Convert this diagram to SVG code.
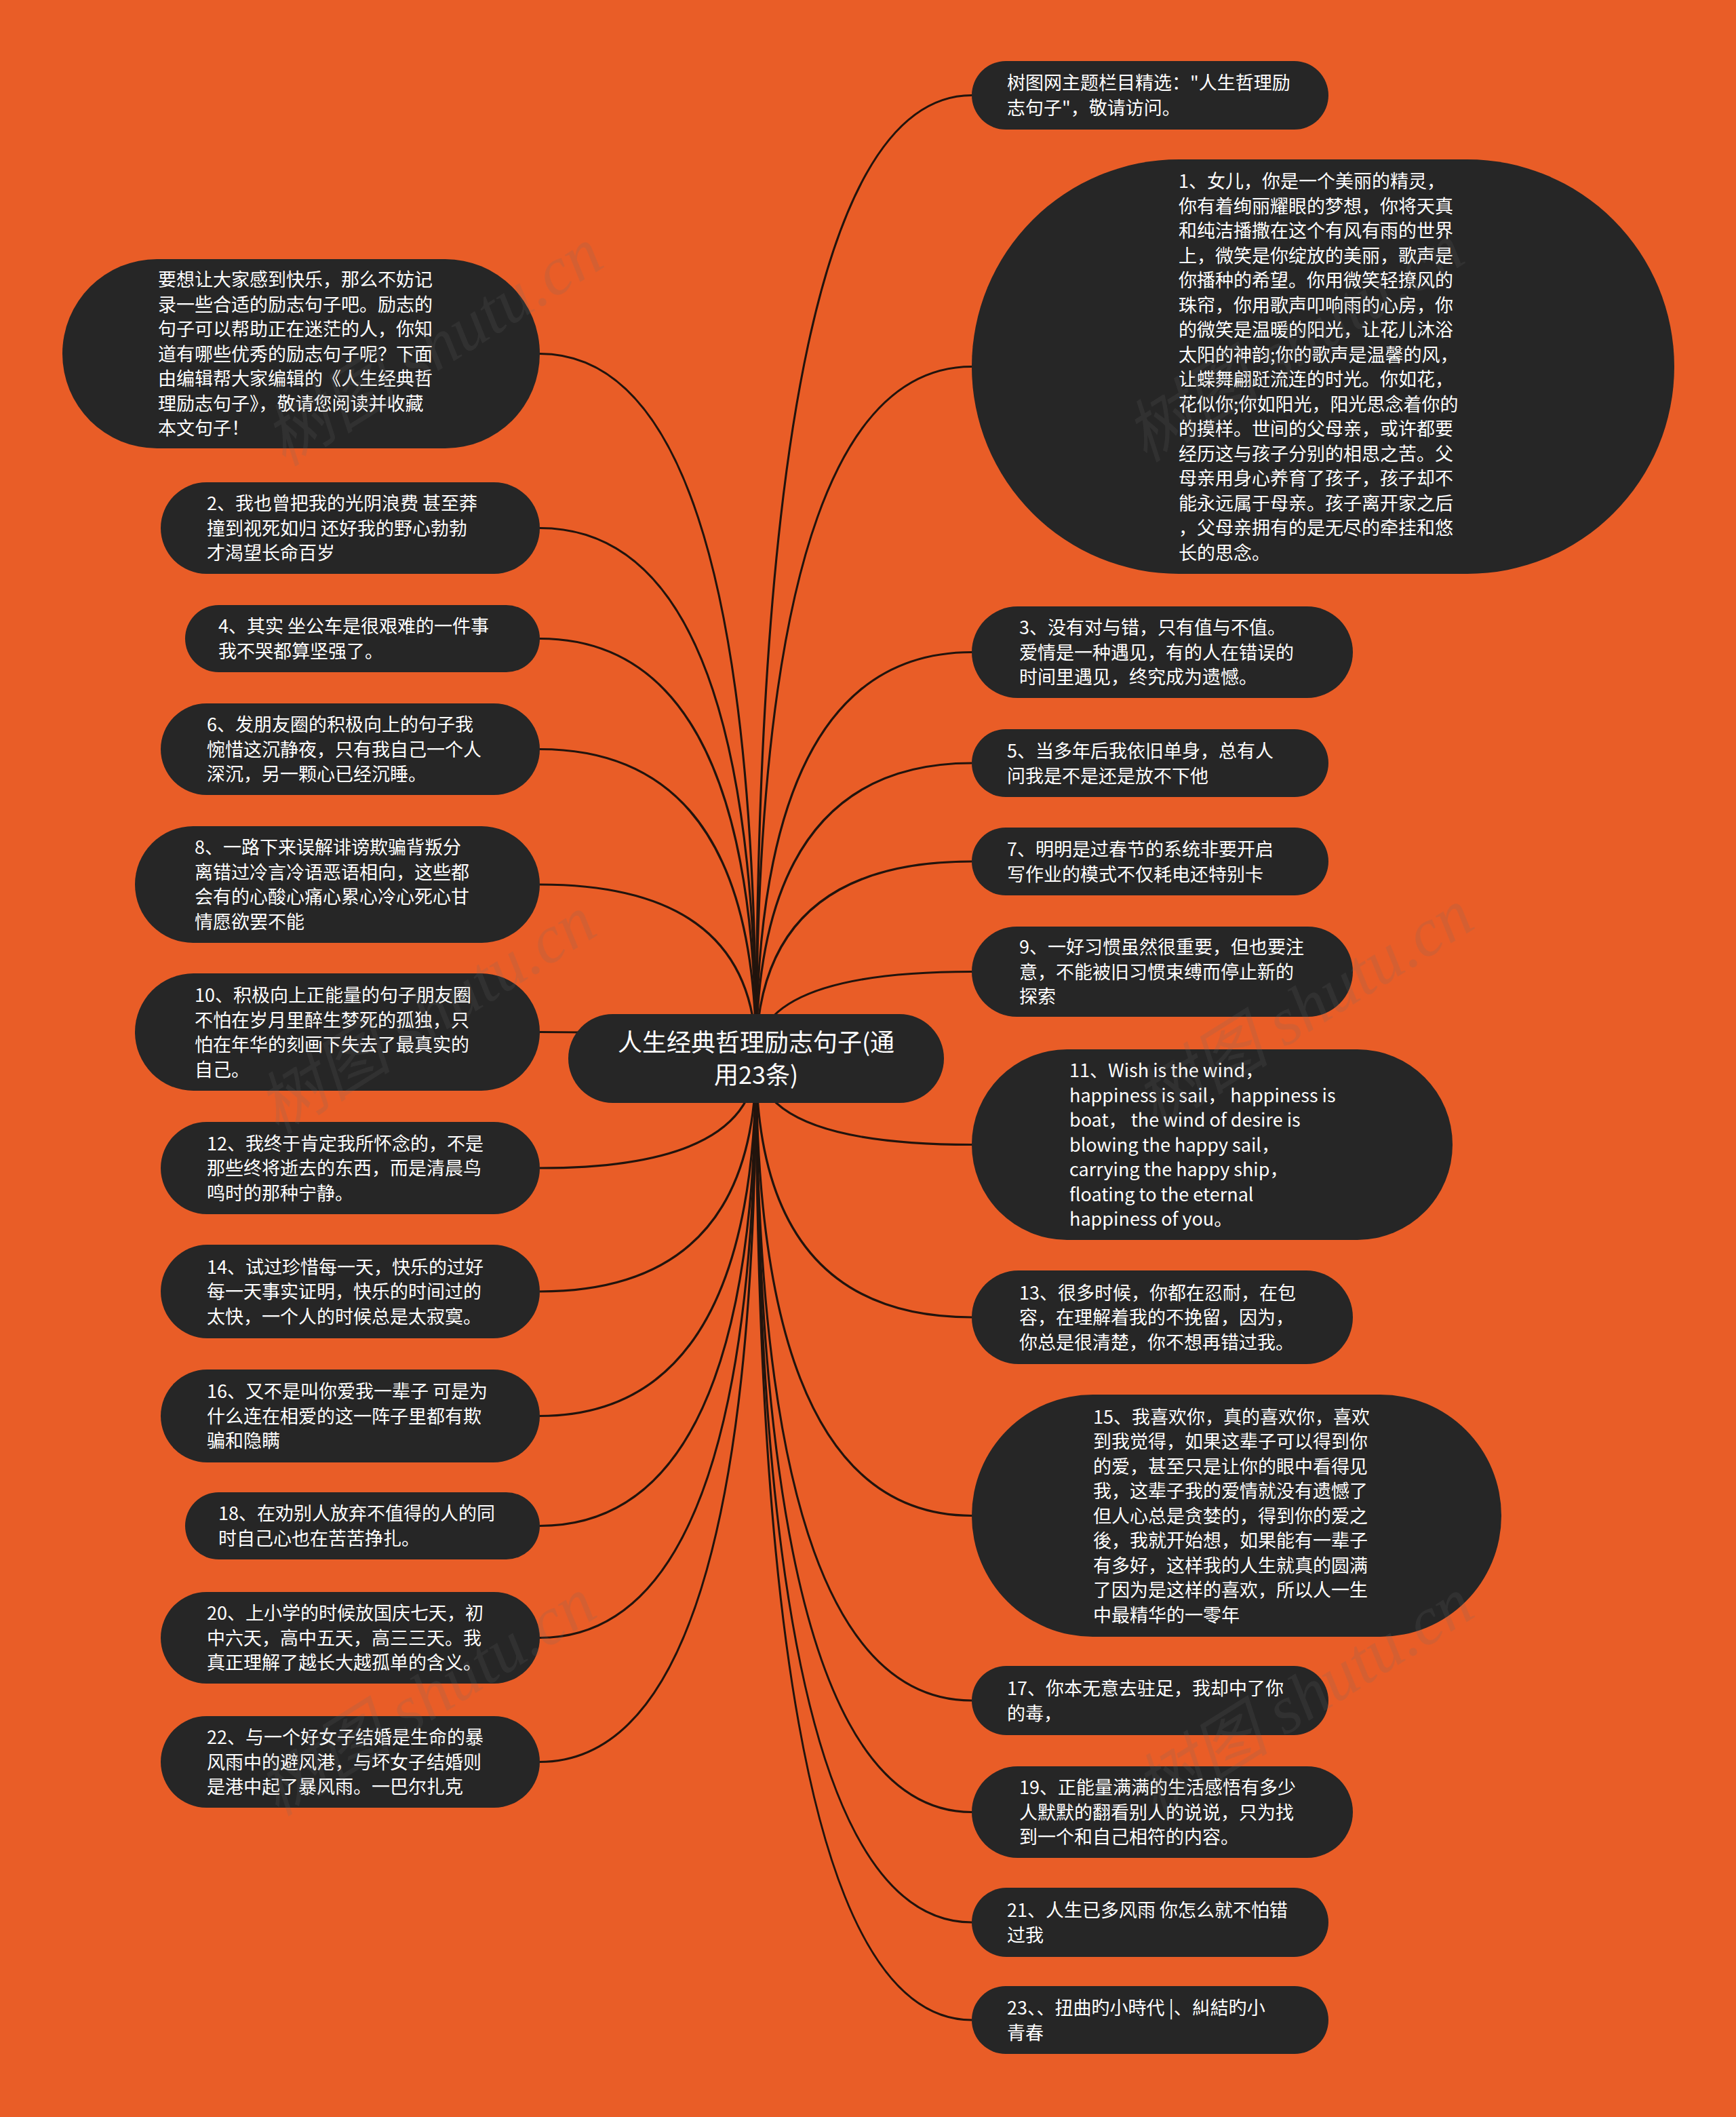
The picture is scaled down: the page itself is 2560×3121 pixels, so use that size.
<svg xmlns="http://www.w3.org/2000/svg" width="2560" height="3121" viewBox="0 0 2560 3121">
<style>
.bg{fill:#E95D27}
.edge{fill:none;stroke:#22140d;stroke-width:3.2}
.box{fill:#262626}
.t{fill:#ffffff;font-family:"Noto Sans CJK SC","Noto Sans",sans-serif;font-size:27px}
.ct{fill:#ffffff;font-family:"Noto Sans CJK SC","Noto Sans",sans-serif;font-size:36px;text-anchor:middle}
.wm{fill:#6e6e6e;opacity:0.16;font-family:"Liberation Serif","Noto Sans CJK SC",serif;font-style:italic;font-size:100px;text-anchor:middle}
</style>
<rect class="bg" x="0" y="0" width="2560" height="3121"/>
<g id="connectors">
<path class="edge" d="M1115 1560 Q1115 140.5 1433 140.5"/>
<path class="edge" d="M1115 1560 Q1115 540.5 1433 540.5"/>
<path class="edge" d="M1115 1560 Q1115 961.5 1433 961.5"/>
<path class="edge" d="M1115 1560 Q1115 1125 1433 1125"/>
<path class="edge" d="M1115 1560 Q1115 1270 1433 1270"/>
<path class="edge" d="M1115 1560 Q1115 1432.5 1433 1432.5"/>
<path class="edge" d="M1115 1560 Q1115 1687.5 1433 1687.5"/>
<path class="edge" d="M1115 1560 Q1115 1942 1433 1942"/>
<path class="edge" d="M1115 1560 Q1115 2234.5 1433 2234.5"/>
<path class="edge" d="M1115 1560 Q1115 2507 1433 2507"/>
<path class="edge" d="M1115 1560 Q1115 2671.5 1433 2671.5"/>
<path class="edge" d="M1115 1560 Q1115 2834 1433 2834"/>
<path class="edge" d="M1115 1560 Q1115 2978 1433 2978"/>
<path class="edge" d="M1115 1560 Q1115 521.5 796 521.5"/>
<path class="edge" d="M1115 1560 Q1115 778.5 796 778.5"/>
<path class="edge" d="M1115 1560 Q1115 941.5 796 941.5"/>
<path class="edge" d="M1115 1560 Q1115 1104.5 796 1104.5"/>
<path class="edge" d="M1115 1560 Q1115 1304 796 1304"/>
<path class="edge" d="M1115 1560 Q1115 1521.5 796 1521.5"/>
<path class="edge" d="M1115 1560 Q1115 1722 796 1722"/>
<path class="edge" d="M1115 1560 Q1115 1904 796 1904"/>
<path class="edge" d="M1115 1560 Q1115 2087.5 796 2087.5"/>
<path class="edge" d="M1115 1560 Q1115 2249.5 796 2249.5"/>
<path class="edge" d="M1115 1560 Q1115 2414.5 796 2414.5"/>
<path class="edge" d="M1115 1560 Q1115 2597.5 796 2597.5"/>
</g>
<g id="center">
<rect class="box" x="838" y="1495" width="554" height="131" rx="65.5"/>
<text class="ct" x="1115" y="1549.5">人生经典哲理励志句子(通<tspan x="1115" dy="48">用23条)</tspan></text>
</g>
<g id="n-top">
<rect class="box" x="1433" y="90" width="526" height="101" rx="50.5"/>
<text class="t" y="132"><tspan x="1485">树图网主题栏目精选："人生哲理励</tspan><tspan x="1485" dy="36.5">志句子"，敬请访问。</tspan></text>
</g>
<g id="n1">
<rect class="box" x="1433" y="235" width="1036" height="611" rx="305.5"/>
<text class="t" y="277"><tspan x="1738">1、女儿，你是一个美丽的精灵，</tspan><tspan x="1738" dy="36.5">你有着绚丽耀眼的梦想，你将天真</tspan><tspan x="1738" dy="36.5">和纯洁播撒在这个有风有雨的世界</tspan><tspan x="1738" dy="36.5">上，微笑是你绽放的美丽，歌声是</tspan><tspan x="1738" dy="36.5">你播种的希望。你用微笑轻撩风的</tspan><tspan x="1738" dy="36.5">珠帘，你用歌声叩响雨的心房，你</tspan><tspan x="1738" dy="36.5">的微笑是温暖的阳光，让花儿沐浴</tspan><tspan x="1738" dy="36.5">太阳的神韵;你的歌声是温馨的风，</tspan><tspan x="1738" dy="36.5">让蝶舞翩跹流连的时光。你如花，</tspan><tspan x="1738" dy="36.5">花似你;你如阳光，阳光思念着你的</tspan><tspan x="1738" dy="36.5">的摸样。世间的父母亲，或许都要</tspan><tspan x="1738" dy="36.5">经历这与孩子分别的相思之苦。父</tspan><tspan x="1738" dy="36.5">母亲用身心养育了孩子，孩子却不</tspan><tspan x="1738" dy="36.5">能永远属于母亲。孩子离开家之后</tspan><tspan x="1738" dy="36.5">，父母亲拥有的是无尽的牵挂和悠</tspan><tspan x="1738" dy="36.5">长的思念。</tspan></text>
</g>
<g id="n3">
<rect class="box" x="1433" y="894" width="562" height="135" rx="67.5"/>
<text class="t" y="935"><tspan x="1503">3、没有对与错，只有值与不值。</tspan><tspan x="1503" dy="36.5">爱情是一种遇见，有的人在错误的</tspan><tspan x="1503" dy="36.5">时间里遇见，终究成为遗憾。</tspan></text>
</g>
<g id="n5">
<rect class="box" x="1433" y="1075" width="526" height="100" rx="50"/>
<text class="t" y="1117"><tspan x="1485">5、当多年后我依旧单身，总有人</tspan><tspan x="1485" dy="36.5">问我是不是还是放不下他</tspan></text>
</g>
<g id="n7">
<rect class="box" x="1433" y="1220" width="526" height="100" rx="50"/>
<text class="t" y="1262"><tspan x="1485">7、明明是过春节的系统非要开启</tspan><tspan x="1485" dy="36.5">写作业的模式不仅耗电还特别卡</tspan></text>
</g>
<g id="n9">
<rect class="box" x="1433" y="1366" width="562" height="133" rx="66.5"/>
<text class="t" y="1406"><tspan x="1503">9、一好习惯虽然很重要，但也要注</tspan><tspan x="1503" dy="36.5">意，不能被旧习惯束缚而停止新的</tspan><tspan x="1503" dy="36.5">探索</tspan></text>
</g>
<g id="n11">
<rect class="box" x="1433" y="1547" width="709" height="281" rx="140.5"/>
<text class="t" y="1588"><tspan x="1577">11、Wish is the wind，</tspan><tspan x="1577" dy="36.5">happiness is sail，  happiness is</tspan><tspan x="1577" dy="36.5">boat，  the wind of desire is</tspan><tspan x="1577" dy="36.5">blowing the happy sail，</tspan><tspan x="1577" dy="36.5">carrying the happy ship，</tspan><tspan x="1577" dy="36.5">floating to the eternal</tspan><tspan x="1577" dy="36.5">happiness of you。</tspan></text>
</g>
<g id="n13">
<rect class="box" x="1433" y="1873" width="562" height="138" rx="69"/>
<text class="t" y="1915.5"><tspan x="1503">13、很多时候，你都在忍耐，在包</tspan><tspan x="1503" dy="36.5">容，在理解着我的不挽留，因为，</tspan><tspan x="1503" dy="36.5">你总是很清楚，你不想再错过我。</tspan></text>
</g>
<g id="n15">
<rect class="box" x="1433" y="2056" width="781" height="357" rx="178.5"/>
<text class="t" y="2098.5"><tspan x="1612">15、我喜欢你，真的喜欢你，喜欢</tspan><tspan x="1612" dy="36.5">到我觉得，如果这辈子可以得到你</tspan><tspan x="1612" dy="36.5">的爱，甚至只是让你的眼中看得见</tspan><tspan x="1612" dy="36.5">我，这辈子我的爱情就没有遗憾了</tspan><tspan x="1612" dy="36.5">但人心总是贪婪的，得到你的爱之</tspan><tspan x="1612" dy="36.5">後，我就开始想，如果能有一辈子</tspan><tspan x="1612" dy="36.5">有多好，这样我的人生就真的圆满</tspan><tspan x="1612" dy="36.5">了因为是这样的喜欢，所以人一生</tspan><tspan x="1612" dy="36.5">中最精华的一零年</tspan></text>
</g>
<g id="n17">
<rect class="box" x="1433" y="2456" width="526" height="102" rx="51"/>
<text class="t" y="2499"><tspan x="1485">17、你本无意去驻足，我却中了你</tspan><tspan x="1485" dy="36.5">的毒，</tspan></text>
</g>
<g id="n19">
<rect class="box" x="1433" y="2604" width="562" height="135" rx="67.5"/>
<text class="t" y="2645"><tspan x="1503">19、正能量满满的生活感悟有多少</tspan><tspan x="1503" dy="36.5">人默默的翻看别人的说说，只为找</tspan><tspan x="1503" dy="36.5">到一个和自己相符的内容。</tspan></text>
</g>
<g id="n21">
<rect class="box" x="1433" y="2783" width="526" height="102" rx="51"/>
<text class="t" y="2826"><tspan x="1485">21、人生已多风雨 你怎么就不怕错</tspan><tspan x="1485" dy="36.5">过我</tspan></text>
</g>
<g id="n23">
<rect class="box" x="1433" y="2928" width="526" height="100" rx="50"/>
<text class="t" y="2970"><tspan x="1485">23、、扭曲旳小時代 |、糾結旳小</tspan><tspan x="1485" dy="36.5">青春</tspan></text>
</g>
<g id="n-intro">
<rect class="box" x="92" y="382" width="704" height="279" rx="139.5"/>
<text class="t" y="422"><tspan x="233">要想让大家感到快乐，那么不妨记</tspan><tspan x="233" dy="36.5">录一些合适的励志句子吧。励志的</tspan><tspan x="233" dy="36.5">句子可以帮助正在迷茫的人，你知</tspan><tspan x="233" dy="36.5">道有哪些优秀的励志句子呢？下面</tspan><tspan x="233" dy="36.5">由编辑帮大家编辑的《人生经典哲</tspan><tspan x="233" dy="36.5">理励志句子》，敬请您阅读并收藏</tspan><tspan x="233" dy="36.5">本文句子！</tspan></text>
</g>
<g id="n2">
<rect class="box" x="237" y="711" width="559" height="135" rx="67.5"/>
<text class="t" y="752"><tspan x="305">2、我也曾把我的光阴浪费 甚至莽</tspan><tspan x="305" dy="36.5">撞到视死如归 还好我的野心勃勃</tspan><tspan x="305" dy="36.5">才渴望长命百岁</tspan></text>
</g>
<g id="n4">
<rect class="box" x="273" y="892" width="523" height="99" rx="49.5"/>
<text class="t" y="933"><tspan x="322">4、其实 坐公车是很艰难的一件事</tspan><tspan x="322" dy="36.5">我不哭都算坚强了。</tspan></text>
</g>
<g id="n6">
<rect class="box" x="237" y="1037" width="559" height="135" rx="67.5"/>
<text class="t" y="1078"><tspan x="305">6、发朋友圈的积极向上的句子我</tspan><tspan x="305" dy="36.5">惋惜这沉静夜，只有我自己一个人</tspan><tspan x="305" dy="36.5">深沉，另一颗心已经沉睡。</tspan></text>
</g>
<g id="n8">
<rect class="box" x="199" y="1218" width="597" height="172" rx="86"/>
<text class="t" y="1259"><tspan x="287">8、一路下来误解诽谤欺骗背叛分</tspan><tspan x="287" dy="36.5">离错过冷言冷语恶语相向，这些都</tspan><tspan x="287" dy="36.5">会有的心酸心痛心累心冷心死心甘</tspan><tspan x="287" dy="36.5">情愿欲罢不能</tspan></text>
</g>
<g id="n10">
<rect class="box" x="199" y="1435" width="597" height="173" rx="86.5"/>
<text class="t" y="1477"><tspan x="287">10、积极向上正能量的句子朋友圈</tspan><tspan x="287" dy="36.5">不怕在岁月里醉生梦死的孤独，只</tspan><tspan x="287" dy="36.5">怕在年华的刻画下失去了最真实的</tspan><tspan x="287" dy="36.5">自己。</tspan></text>
</g>
<g id="n12">
<rect class="box" x="237" y="1654" width="559" height="136" rx="68"/>
<text class="t" y="1695.5"><tspan x="305">12、我终于肯定我所怀念的，不是</tspan><tspan x="305" dy="36.5">那些终将逝去的东西，而是清晨鸟</tspan><tspan x="305" dy="36.5">鸣时的那种宁静。</tspan></text>
</g>
<g id="n14">
<rect class="box" x="237" y="1835" width="559" height="138" rx="69"/>
<text class="t" y="1877.5"><tspan x="305">14、试过珍惜每一天，快乐的过好</tspan><tspan x="305" dy="36.5">每一天事实证明，快乐的时间过的</tspan><tspan x="305" dy="36.5">太快，一个人的时候总是太寂寞。</tspan></text>
</g>
<g id="n16">
<rect class="box" x="237" y="2019" width="559" height="137" rx="68.5"/>
<text class="t" y="2061"><tspan x="305">16、又不是叫你爱我一辈子 可是为</tspan><tspan x="305" dy="36.5">什么连在相爱的这一阵子里都有欺</tspan><tspan x="305" dy="36.5">骗和隐瞒</tspan></text>
</g>
<g id="n18">
<rect class="box" x="273" y="2200" width="523" height="99" rx="49.5"/>
<text class="t" y="2241"><tspan x="322">18、在劝别人放弃不值得的人的同</tspan><tspan x="322" dy="36.5">时自己心也在苦苦挣扎。</tspan></text>
</g>
<g id="n20">
<rect class="box" x="237" y="2347" width="559" height="135" rx="67.5"/>
<text class="t" y="2388"><tspan x="305">20、上小学的时候放国庆七天，初</tspan><tspan x="305" dy="36.5">中六天，高中五天，高三三天。我</tspan><tspan x="305" dy="36.5">真正理解了越长大越孤单的含义。</tspan></text>
</g>
<g id="n22">
<rect class="box" x="237" y="2530" width="559" height="135" rx="67.5"/>
<text class="t" y="2571"><tspan x="305">22、与一个好女子结婚是生命的暴</tspan><tspan x="305" dy="36.5">风雨中的避风港，与坏女子结婚则</tspan><tspan x="305" dy="36.5">是港中起了暴风雨。一巴尔扎克</tspan></text>
</g>
<g id="watermarks">
<text class="wm" transform="translate(657 540) rotate(-32)">树图 shutu.cn</text>
<text class="wm" transform="translate(1927 534) rotate(-32)">树图 shutu.cn</text>
<text class="wm" transform="translate(647 1525) rotate(-32)">树图 shutu.cn</text>
<text class="wm" transform="translate(1941 1515) rotate(-32)">树图 shutu.cn</text>
<text class="wm" transform="translate(647 2530) rotate(-32)">树图 shutu.cn</text>
<text class="wm" transform="translate(1941 2530) rotate(-32)">树图 shutu.cn</text>
</g>
</svg>
